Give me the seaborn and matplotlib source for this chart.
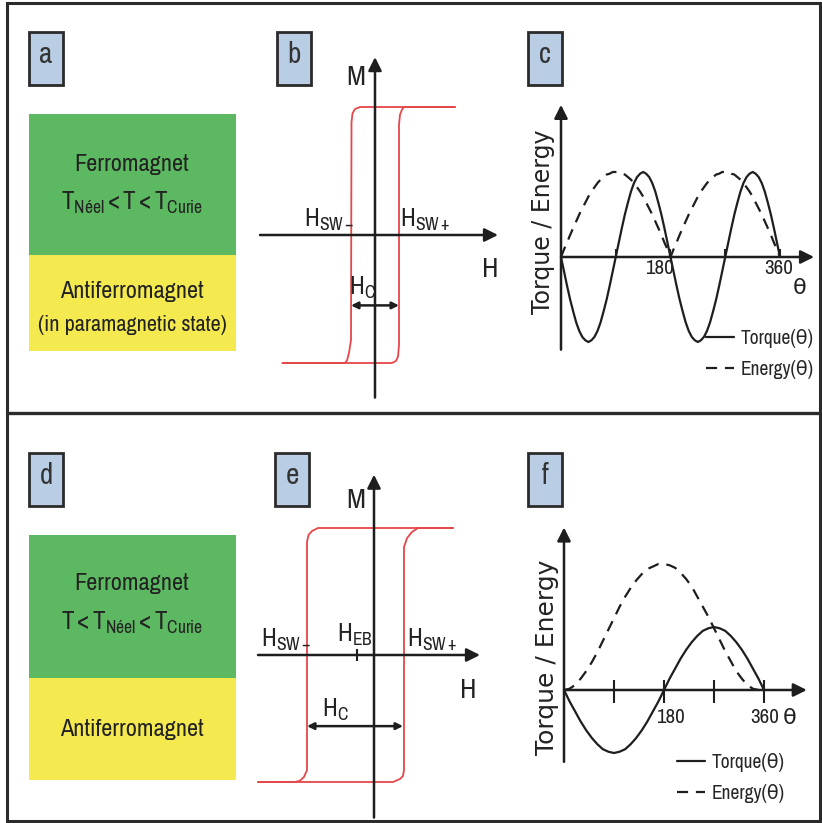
import numpy as np
import pandas as pd
import seaborn as sns
import matplotlib.pyplot as plt
from matplotlib.patches import Rectangle

sns.set_theme(style="white")
NARROW = 'Archivo Narrow'
plt.rcParams['font.family'] = [NARROW, 'DejaVu Sans']
plt.rcParams['mathtext.fontset'] = 'custom'
plt.rcParams['mathtext.rm'] = NARROW
plt.rcParams['mathtext.it'] = NARROW

# ---- data ----
# panel b: hysteresis loop, H in arb. units, M normalised
b_up_H = [-3.7, 0.68, 0.84, 0.92, 0.96, 0.96, 1.0, 1.08, 1.16, 3.2]
b_up_M = [-1, -1, -0.984, -0.95, -0.86, 0.86, 0.94, 0.98, 1, 1]
b_dn_H = [3.2, -0.6, -0.8, -0.9, -0.94, -0.96, -1.04, -1.12, -1.2, -3.7]
b_dn_M = [1, 1, 0.984, 0.95, 0.88, -0.82, -0.92, -0.98, -1, -1]
b_hsw = [-0.96, 0.96]

# panel e: exchange-biased loop
e_up_H = [-4.64, 0.76, 1.04, 1.16, 1.2, 1.2, 1.32, 1.52, 1.76, 3.16]
e_up_M = [-1, -1, -0.976, -0.953, -0.906, 0.85, 0.92, 0.969, 1, 1]
e_dn_H = [3.16, -2.24, -2.48, -2.62, -2.68, -2.68, -2.8, -2.96, -3.16, -4.64]
e_dn_M = [1, 1, 0.976, 0.945, 0.89, -0.906, -0.96, -0.99, -1, -1]
e_hsw = [-2.68, 1.16]
e_heb = -0.68

# panel c: torque / energy, 5 deg steps, one period (0-180) repeated
theta_c = list(range(0, 361, 5))
torque_c_half = [0, -0.17, -0.34, -0.5, -0.64, -0.77, -0.87, -0.94, -0.98, -1,
                 -0.98, -0.94, -0.87, -0.77, -0.64, -0.5, -0.34, -0.17, 0,
                 0.17, 0.34, 0.5, 0.64, 0.77, 0.87, 0.94, 0.98, 1,
                 0.98, 0.94, 0.87, 0.77, 0.64, 0.5, 0.34, 0.17, 0]
energy_c_half = [0, 0.09, 0.17, 0.26, 0.34, 0.42, 0.5, 0.57, 0.64, 0.71,
                 0.77, 0.82, 0.87, 0.91, 0.94, 0.97, 0.98, 1.0, 1.0,
                 1.0, 0.98, 0.97, 0.94, 0.91, 0.87, 0.82, 0.77, 0.71,
                 0.64, 0.57, 0.5, 0.42, 0.34, 0.26, 0.17, 0.09, 0]
torque_c = torque_c_half + torque_c_half[1:]
energy_c = energy_c_half + energy_c_half[1:]

# panel f: unidirectional torque / energy, 10 deg steps
theta_f = list(range(0, 361, 10))
torque_f = [0, -0.09, -0.17, -0.25, -0.32, -0.38, -0.43, -0.47, -0.49, -0.5,
            -0.49, -0.47, -0.43, -0.38, -0.32, -0.25, -0.17, -0.09, 0,
            0.09, 0.17, 0.25, 0.32, 0.38, 0.43, 0.47, 0.49, 0.5,
            0.49, 0.47, 0.43, 0.38, 0.32, 0.25, 0.17, 0.09, 0]
theta_fe = list(range(0, 351, 10))
energy_f = [0, 0.01, 0.04, 0.09, 0.15, 0.22, 0.30, 0.39, 0.48, 0.57,
            0.66, 0.74, 0.81, 0.87, 0.92, 0.96, 0.98, 1.0, 1.0,
            0.99, 0.97, 0.93, 0.88, 0.82, 0.74, 0.66, 0.58, 0.49,
            0.40, 0.31, 0.23, 0.15, 0.09, 0.04, 0.01, 0]
ticks_deg = [90, 180, 270, 360]

panel_letters = ['a', 'b', 'c', 'd', 'e', 'f']

# ---- figure ----
W, H = 822, 823
fig = plt.figure(figsize=(W / 100, H / 100), dpi=100)
bg = fig.add_axes([0, 0, 1, 1])
bg.set_xlim(0, W)
bg.set_ylim(H, 0)
bg.axis('off')

DARK = '#1e1e1e'
RED = '#e5474a'
GREEN = '#5db862'
YELLOW = '#f4ea50'
BLUE = '#b9cde5'

# frame + divider
bg.add_patch(Rectangle((7, 3), 813, 818, fill=False, ec='#2b2b2b', lw=2.2))
bg.plot([7, 820], [413, 413], color='#2b2b2b', lw=2.4)

# panel letter boxes
box_pos = [(29, 32), (277, 32), (528, 32), (29, 453), (275, 453), (528, 453)]
for (x, y), letter in zip(box_pos, panel_letters):
    bg.add_patch(Rectangle((x, y), 34, 53, fc=BLUE, ec='#2b2b2b', lw=2))
    bg.text(x + 17, y + 22, letter, fontsize=21, color='#333333',
            ha='center', va='center')

# coloured material boxes
bg.add_patch(Rectangle((29, 114), 207, 141, color=GREEN, lw=0))
bg.add_patch(Rectangle((29, 255), 207, 96, color=YELLOW, lw=0))
bg.add_patch(Rectangle((29, 535), 207, 143, color=GREEN, lw=0))
bg.add_patch(Rectangle((29, 678), 207, 102, color=YELLOW, lw=0))
tk = dict(ha='center', va='center', color='#222222')
bg.text(132, 164, 'Ferromagnet', fontsize=17.5, **tk)
bg.text(132, 203, r'$\mathrm{T_{Néel} < T < T_{Curie}}$', fontsize=18, **tk)
bg.text(132, 292, 'Antiferromagnet', fontsize=17.5, **tk)
bg.text(132, 325, '(in paramagnetic state)', fontsize=16, **tk)
bg.text(132, 583, 'Ferromagnet', fontsize=17.5, **tk)
bg.text(132, 623, r'$\mathrm{T < T_{Néel} < T_{Curie}}$', fontsize=18, **tk)
bg.text(132, 730, 'Antiferromagnet', fontsize=17.5, **tk)


def panel_axes(left, top, width, height, x0, y0, sx, sy):
    # pixel box -> axes; (x0, y0) pixel of data origin, sx/sy px per unit
    ax = fig.add_axes([left / W, 1 - (top + height) / H, width / W, height / H])
    ax.set_xlim((left - x0) / sx, (left + width - x0) / sx)
    ax.set_ylim((y0 - (top + height)) / sy, (y0 - top) / sy)
    ax.axis('off')
    return ax


def arrow(ax, start, end, style='-|>', ms=20, lw=1.8):
    ax.annotate('', xy=end, xytext=start,
                arrowprops=dict(arrowstyle=style, color=DARK, lw=lw,
                                mutation_scale=ms, shrinkA=0, shrinkB=0))


def hysteresis(ax, up_H, up_M, dn_H, dn_M, xr, yr):
    arrow(ax, (xr[0], 0), (xr[1], 0))
    arrow(ax, (0, yr[0]), (0, yr[1]))
    sns.lineplot(x=up_H, y=up_M, ax=ax, sort=False, estimator=None,
                 color=RED, lw=1.3)
    sns.lineplot(x=dn_H, y=dn_M, ax=ax, sort=False, estimator=None,
                 color=RED, lw=1.3)


lab = dict(ha='center', va='center', color='#222222')

# panel b
axb = panel_axes(250, 40, 260, 370, 375, 235, 25, 128)
hysteresis(axb, b_up_H, b_up_M, b_dn_H, b_dn_M, (-4.6, 4.92), (-1.27, 1.39))
arrow(axb, (b_hsw[0], -0.55), (b_hsw[1], -0.55), style='<|-|>', ms=10, lw=1.8)
axb.text(-0.5, -0.41, r'$\mathrm{H_C}$', fontsize=18, **lab)
axb.text(-1.85, 0.12, r'$\mathrm{H_{SW-}}$', fontsize=18, **lab)
axb.text(2.0, 0.12, r'$\mathrm{H_{SW+}}$', fontsize=18, **lab)
axb.text(-0.76, 1.23, 'M', fontsize=20, **lab)
axb.text(4.6, -0.27, 'H', fontsize=20, **lab)

# panel e
axe = panel_axes(250, 450, 260, 370, 374, 655, 25, 127)
hysteresis(axe, e_up_H, e_up_M, e_dn_H, e_dn_M, (-4.64, 4.24), (-1.28, 1.42))
axe.vlines(e_heb, -0.05, 0.05, color=DARK, lw=1.5)
arrow(axe, (e_hsw[0], -0.56), (e_hsw[1], -0.56), style='<|-|>', ms=10, lw=1.8)
axe.text(-1.56, -0.43, r'$\mathrm{H_C}$', fontsize=18, **lab)
axe.text(-3.52, 0.12, r'$\mathrm{H_{SW-}}$', fontsize=18, **lab)
axe.text(-0.76, 0.16, r'$\mathrm{H_{EB}}$', fontsize=18, **lab)
axe.text(2.32, 0.12, r'$\mathrm{H_{SW+}}$', fontsize=18, **lab)
axe.text(-0.72, 1.22, 'M', fontsize=20, **lab)
axe.text(3.76, -0.28, 'H', fontsize=20, **lab)


def torque_panel(ax, th_t, tq, th_e, en, xr, yr, tick_lo, tick_hi,
                 lbl_y, lab_size, leg_xy):
    arrow(ax, (xr[0], 0), (xr[1], 0))
    arrow(ax, (0, yr[0]), (0, yr[1]))
    ax.vlines(ticks_deg, tick_lo, tick_hi, color=DARK, lw=1.5)
    sns.lineplot(x=th_t, y=tq, ax=ax, sort=False, estimator=None,
                 color=DARK, lw=1.6, label='Torque(θ)')
    sns.lineplot(x=th_e, y=en, ax=ax, sort=False, estimator=None,
                 color=DARK, lw=1.6, dashes=False, linestyle=(0, (5, 3.5)),
                 label='Energy(θ)')
    ax.text(-30, lbl_y, 'Torque / Energy', rotation=90, fontsize=lab_size,
            family='DejaVu Sans', ha='center', va='center', color='#222222')
    ax.legend(loc='upper left', bbox_to_anchor=leg_xy,
              bbox_transform=fig.transFigure, frameon=False, fontsize=14,
              handlelength=1.45, handletextpad=0.35, labelspacing=0.6,
              borderpad=0, borderaxespad=0)


# panel c
axc = panel_axes(510, 40, 312, 370, 561, 257, 0.6083, 85)
torque_panel(axc, theta_c, torque_c, theta_c, energy_c, (0, 416),
             (-1.09, 1.79), 0, 0.1, 0.41, 17, (706 / W, 1 - 329 / H))
axc.text(162, -0.14, '180', fontsize=15, **lab)
axc.text(358, -0.14, '360', fontsize=15, **lab)
axc.text(393, -0.36, 'θ', fontsize=16, **lab)

# panel f
axf = panel_axes(510, 450, 312, 370, 564, 690, 0.5556, 126)
torque_panel(axf, theta_f, torque_f, theta_fe, energy_f, (0, 437),
             (-0.57, 1.29), -0.1, 0.08, 0.26, 18, (677 / W, 1 - 753 / H))
axf.text(191, -0.22, '180', fontsize=15, **lab)
axf.text(362, -0.22, '360', fontsize=15, **lab)
axf.text(406, -0.22, 'θ', fontsize=16, **lab)

fig.savefig('out.png', dpi=100)
